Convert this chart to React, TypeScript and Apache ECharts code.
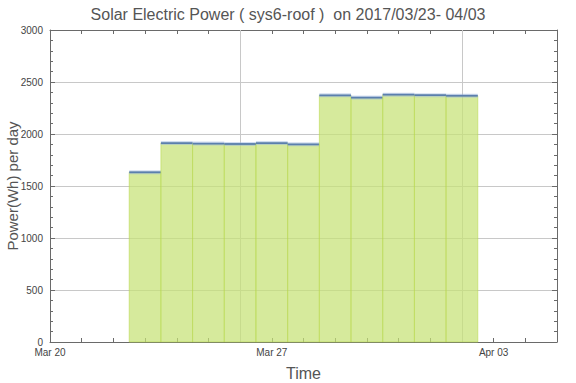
import React, { useEffect, useRef } from "react";
import * as echarts from "echarts";

// Data
const startDate = "2017-03-20";
const dates = [
  "2017-03-23", "2017-03-24", "2017-03-25", "2017-03-26", "2017-03-27", "2017-03-28",
  "2017-03-29", "2017-03-30", "2017-03-31", "2017-04-01", "2017-04-02",
];
const powerWh = [1632, 1913, 1908, 1904, 1913, 1901, 2372, 2350, 2378, 2373, 2368];
const xTickLabels = ["Mar 20", "Mar 27", "Apr 03"];
const xGridDates = ["2017-03-26", "2017-04-02"];
const xMaxDate = "2017-04-05";

const DAY = 86400000;
const dayOffset = (d: string) => Math.round((Date.parse(d) - Date.parse(startDate)) / DAY);

export default function App() {
  const ref = useRef<HTMLDivElement>(null);
  useEffect(() => {
    document.body.style.margin = "0";
    const chart = echarts.init(ref.current!, undefined, { renderer: "svg" });
    const font = "Liberation Sans, Arial, sans-serif";
    const axisColor = "#6a6a6a";
    const data = dates.map((d, i) => [dayOffset(d), powerWh[i]]);
    const xMax = dayOffset(xMaxDate);
    const xBase = {
      type: "value",
      min: 0,
      max: xMax,
      interval: 7,
      axisLine: { show: true, onZero: false, lineStyle: { color: axisColor, width: 1 } },
      axisTick: { show: true, inside: true, length: 4, lineStyle: { color: axisColor } },
      minorTick: { show: true, splitNumber: 7, length: 4, lineStyle: { color: axisColor } },
      splitLine: { show: false },
      minorSplitLine: { show: false },
    };
    const yBase = {
      type: "value",
      min: 0,
      max: 3000,
      interval: 500,
      axisLine: { show: true, onZero: false, lineStyle: { color: axisColor, width: 1 } },
      axisTick: { show: true, inside: true, length: 5, lineStyle: { color: axisColor } },
      minorTick: { show: true, splitNumber: 5, length: 3, lineStyle: { color: axisColor } },
    };
    chart.setOption({
      animation: false,
      backgroundColor: "#ffffff",
      title: {
        text: "Solar Electric Power ( sys6-roof )  on 2017/03/23- 04/03",
        left: "center",
        top: 1,
        textStyle: { fontFamily: font, fontSize: 16, fontWeight: "normal", color: "#555555" },
      },
      grid: { left: 50, right: 19, top: 30, bottom: 41, containLabel: false, outerBoundsMode: "none" },
      xAxis: [
        {
          ...xBase,
          position: "bottom",
          name: "Time",
          nameLocation: "middle",
          nameGap: 23,
          nameMoveOverlap: false,
          nameTextStyle: { fontFamily: font, fontSize: 16, color: "#555555" },
          axisLabel: {
            show: true,
            margin: 5,
            fontFamily: font,
            fontSize: 10,
            color: "#444444",
            showMaxLabel: false,
            formatter: (v: number) => (v % 7 === 0 ? xTickLabels[v / 7] ?? "" : ""),
          },
        },
        { ...xBase, position: "top", axisLabel: { show: false } },
      ],
      yAxis: [
        {
          ...yBase,
          position: "left",
          name: "Power(Wh) per day",
          nameLocation: "middle",
          nameGap: 30,
          nameMoveOverlap: false,
          nameTextStyle: { fontFamily: font, fontSize: 15, color: "#555555" },
          axisLabel: {
            show: true,
            margin: 7,
            fontFamily: font,
            fontSize: 10,
            color: "#444444",
            formatter: (v: number) => String(v),
          },
          splitLine: { show: true, lineStyle: { color: "#c8c8c8", width: 1 } },
        },
        {
          ...yBase,
          position: "right",
          axisLabel: { show: false },
          splitLine: { show: false },
        },
      ],
      series: [
        {
          type: "custom",
          xAxisIndex: 0,
          yAxisIndex: 0,
          data,
          z: 3,
          renderItem: (params: any, api: any) => {
            const x = api.value(0);
            const y = api.value(1);
            const tl = api.coord([x - 0.5, y]);
            const br = api.coord([x + 0.5, 0]);
            return {
              type: "group",
              children: [
                {
                  type: "rect",
                  shape: { x: tl[0], y: tl[1], width: br[0] - tl[0], height: br[1] - tl[1] },
                  style: { fill: "rgba(198,226,118,0.72)", stroke: "rgba(185,216,80,0.6)", lineWidth: 1 },
                },
                {
                  type: "line",
                  shape: { x1: tl[0], y1: tl[1], x2: br[0], y2: tl[1] },
                  style: { stroke: "rgba(150,180,225,0.45)", lineWidth: 4 },
                },
                {
                  type: "line",
                  shape: { x1: tl[0], y1: tl[1], x2: br[0], y2: tl[1] },
                  style: { stroke: "#5b7fae", lineWidth: 1.8 },
                },
              ],
            };
          },
          markLine: {
            silent: true,
            symbol: ["none", "none"],
            label: { show: false },
            lineStyle: { color: "#c8c8c8", type: "solid", width: 1 },
            data: xGridDates.map((d) => ({ xAxis: dayOffset(d) })),
            z: 1,
          },
        },
      ],
    });
    return () => chart.dispose();
  }, []);
  return <div ref={ref} style={{ width: 576, height: 383, position: "absolute", left: 0, top: 0 }} />;
}
